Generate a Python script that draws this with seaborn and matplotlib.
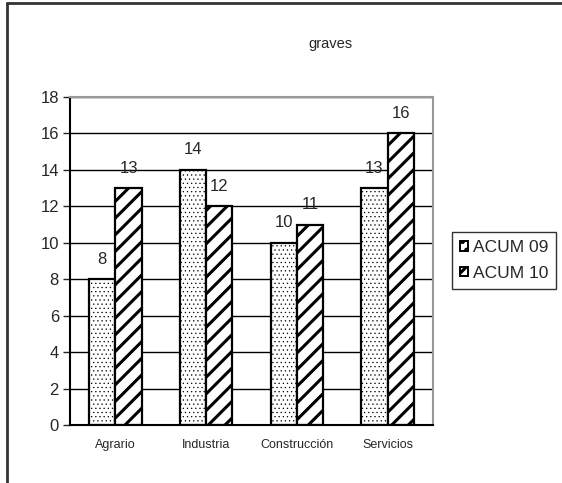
import pandas as pd
import seaborn as sns
import matplotlib.pyplot as plt
from matplotlib.lines import Line2D

categorias = ["Agrario", "Industria", "Construcción", "Servicios"]
acum_09 = [8, 14, 10, 13]
acum_10 = [13, 12, 11, 16]
series = ["ACUM 09", "ACUM 10"]
y_ticks = list(range(0, 20, 2))

df = pd.DataFrame({
    "Sector": categorias * 2,
    "Serie": [series[0]] * 4 + [series[1]] * 4,
    "Valor": acum_09 + acum_10,
})

sns.set_style("white")
plt.rcParams["font.family"] = ["Liberation Sans", "DejaVu Sans"]
plt.rcParams["hatch.linewidth"] = 2.2

fig = plt.figure(figsize=(5.62, 4.83), dpi=100)
ax = fig.add_axes([70 / 562, 1 - 425 / 483, (433 - 70) / 562, (425 - 97) / 483])

sns.barplot(data=df, x="Sector", y="Valor", hue="Serie", palette=["white", "white"],
            edgecolor="black", linewidth=1.6, width=0.58, ax=ax, legend=False)

# dotted pattern for 09, thick diagonal stripes for 10
hatches = ["....", "//"]
hatch_lw = [0.4, 2.2]
for cont, h, hl in zip(ax.containers, hatches, hatch_lw):
    for bar in cont:
        bar.set_hatch(h)
        if hasattr(bar, "set_hatch_linewidth"):
            bar.set_hatch_linewidth(hl)
    ax.bar_label(cont, padding=9, fontsize=12)

ax.set_ylim(0, 18)
ax.set_yticks(y_ticks)
ax.set_xlim(-0.5, 3.5)
ax.set_xticks([i - 0.5 for i in range(5)], minor=True)
ax.tick_params(axis="x", which="major", length=0, labelsize=9, pad=10)
ax.tick_params(axis="x", which="minor", length=4, direction="out", width=1)
ax.tick_params(axis="y", length=5, direction="out", width=1, labelsize=12, left=True, pad=3)
ax.yaxis.grid(True, color="black", linewidth=1)
ax.set_axisbelow(True)
ax.set_xlabel("")
ax.set_ylabel("")

for side in ["left", "bottom"]:
    ax.spines[side].set_color("black")
    ax.spines[side].set_linewidth(1.5)
for side in ["top", "right"]:
    ax.spines[side].set_visible(True)
    ax.spines[side].set_color("#999999")
    ax.spines[side].set_linewidth(1.5)

fig.text(330 / 562, 1 - 44 / 483, "graves", ha="center", va="center", fontsize=10.5)

handles = []
for h, hl in zip(["..", "//"], [1.2, 2.0]):
    p = plt.Rectangle((0, 0), 1, 1, facecolor="white", edgecolor="black", hatch=h, linewidth=1.4)
    if hasattr(p, "set_hatch_linewidth"):
        p.set_hatch_linewidth(hl)
    handles.append(p)
fig.legend(handles, series, loc="center left", bbox_to_anchor=(452 / 562, 1 - 260.5 / 483),
           frameon=True, fancybox=False, edgecolor="black", fontsize=12.5,
           handlelength=0.5, handleheight=0.5, handletextpad=0.25, borderpad=0.45,
           labelspacing=0.6, borderaxespad=0)

fig.add_artist(Line2D([7 / 562, 1], [1 - 3 / 483, 1 - 3 / 483], color="#333333", linewidth=2,
                      transform=fig.transFigure))
fig.add_artist(Line2D([7 / 562, 7 / 562], [0, 1 - 3 / 483], color="#333333", linewidth=2,
                      transform=fig.transFigure))

fig.savefig("out.png", dpi=100)
